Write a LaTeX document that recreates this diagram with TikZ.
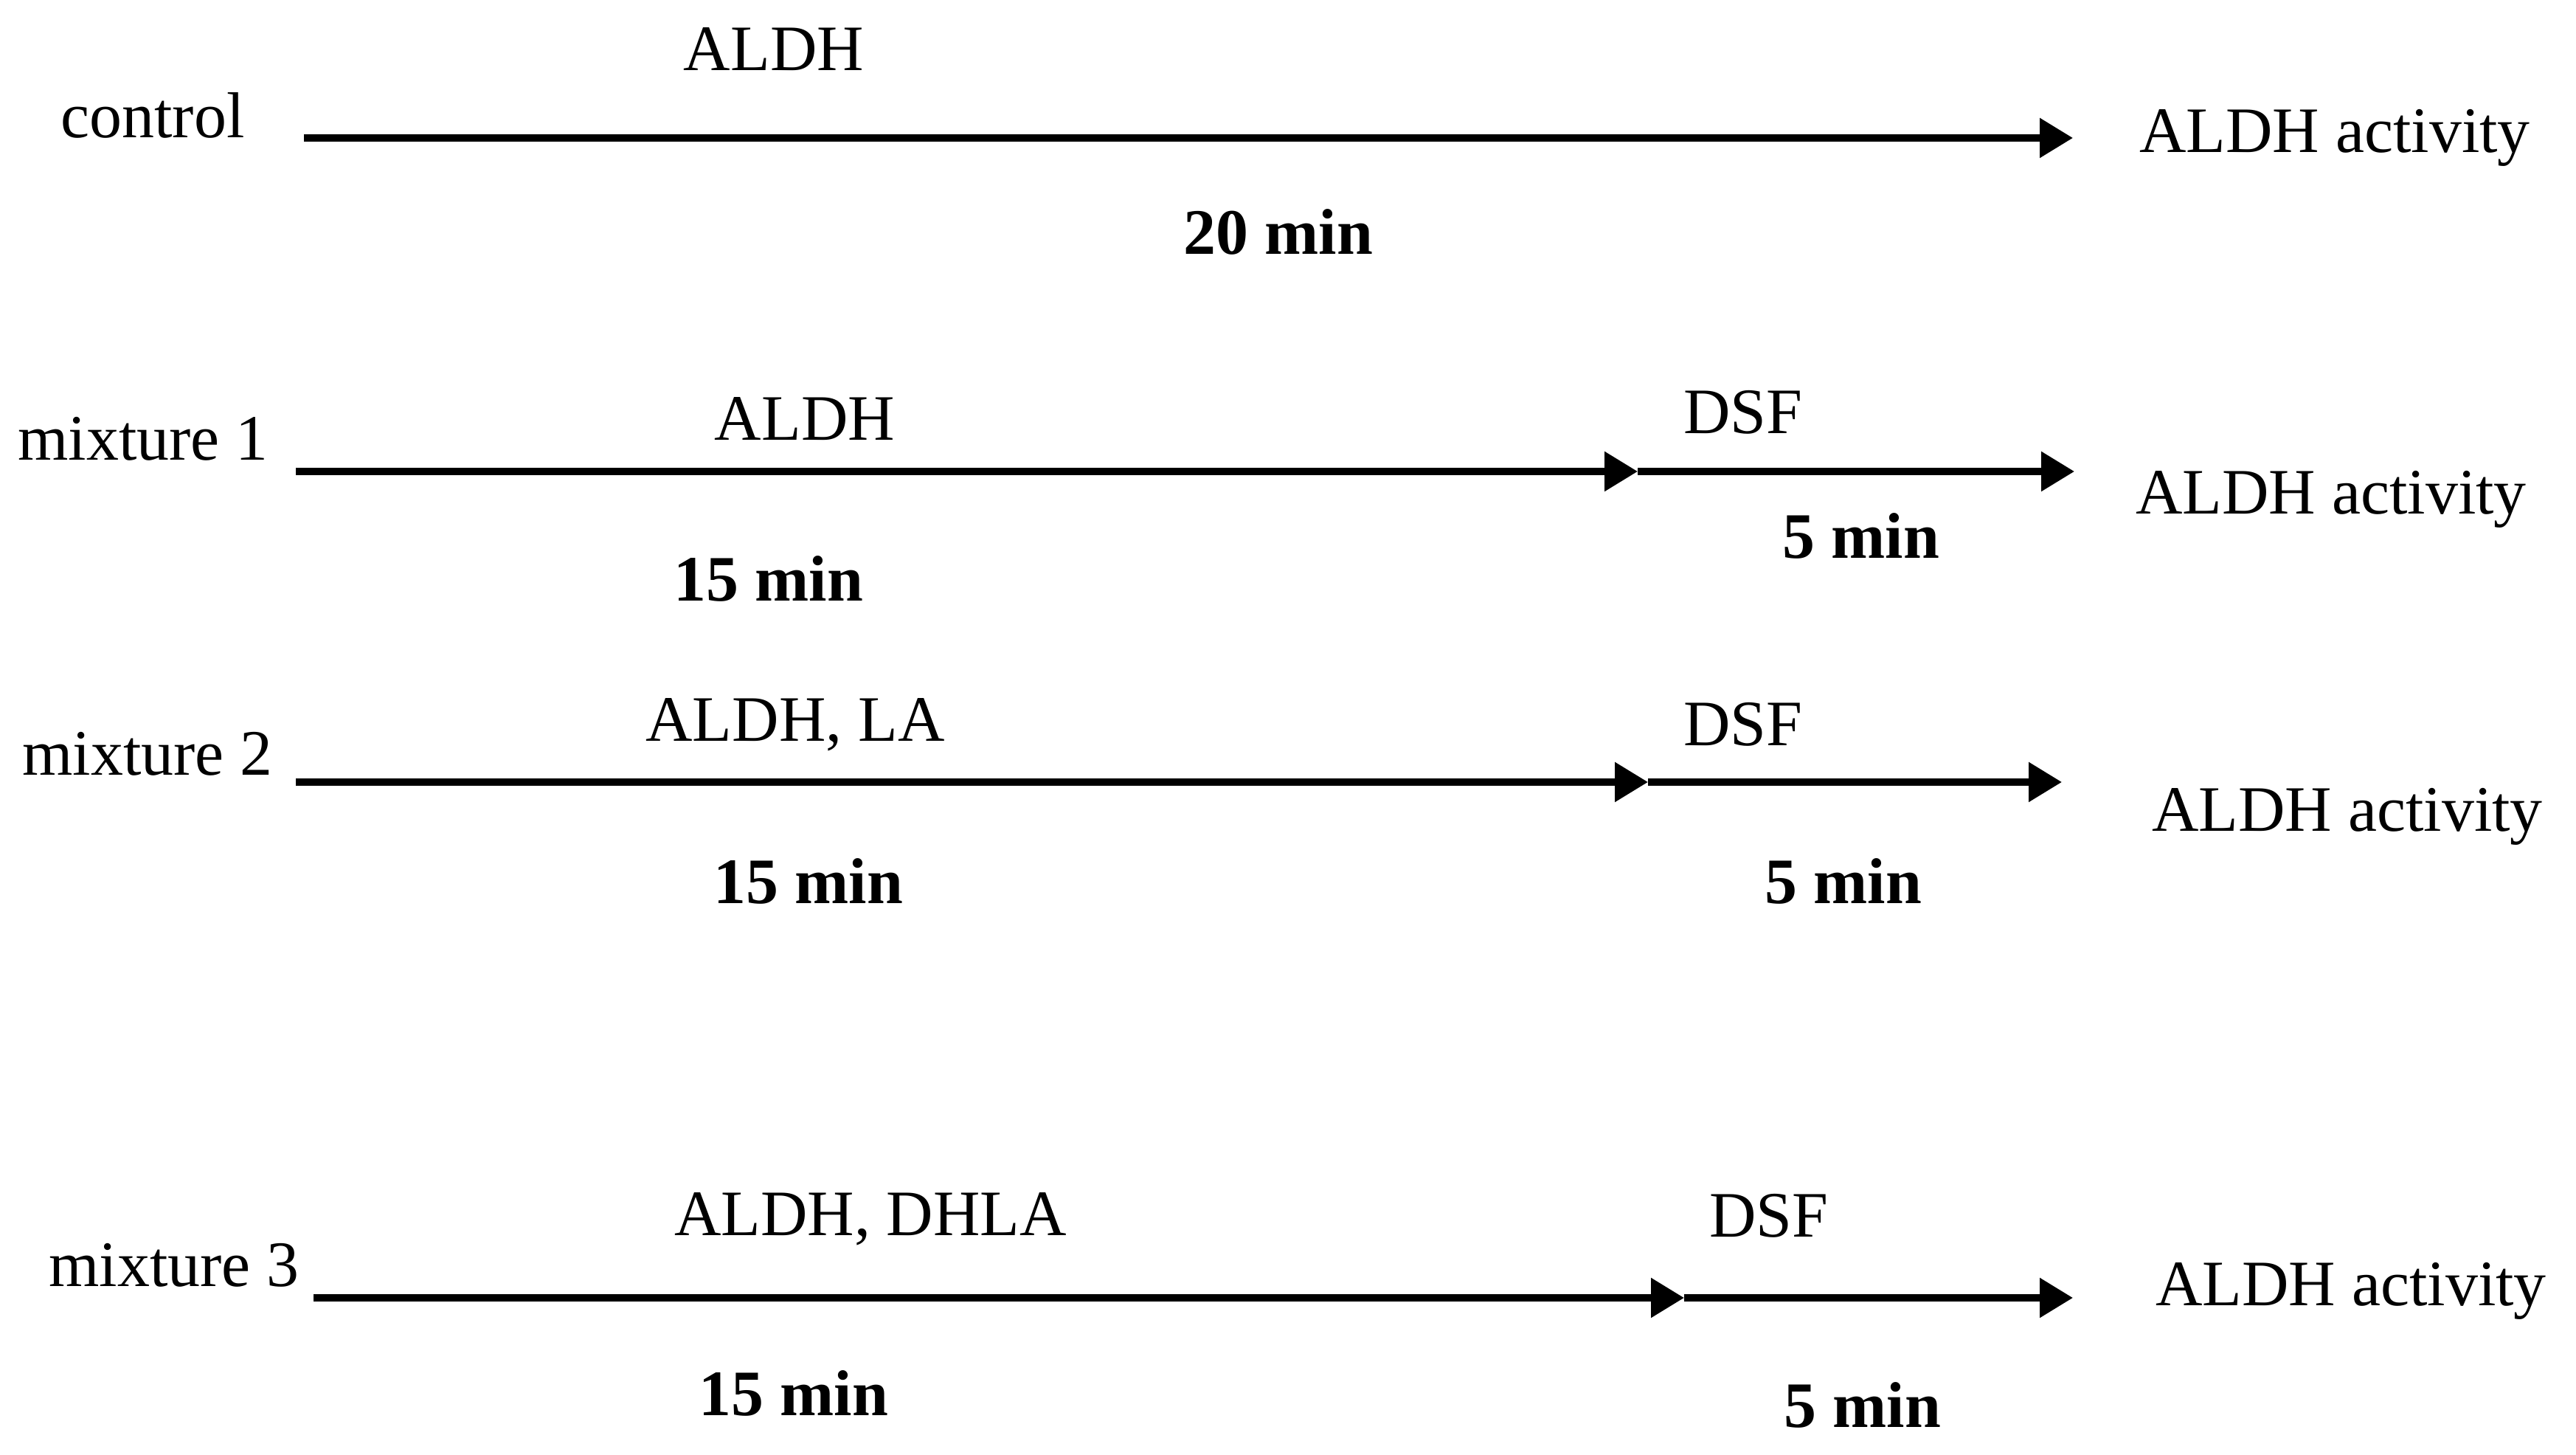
\documentclass[tikz,border=0pt]{standalone}
\usepackage{fontspec}
\setmainfont{Liberation Serif}
\usepackage{tikz}
\usetikzlibrary{arrows.meta}

\begin{document}
\begin{tikzpicture}[
    >={Triangle[length=0.45cm, width=0.52cm]},
    step line/.style={line width=2.6pt},
    every node/.style={inner sep=0pt, font=\fontsize{25}{30}\selectfont},
    time/.style={font=\fontsize{25}{30}\selectfont\bfseries}]
    \useasboundingbox (0,0) rectangle (34.92,19.72);
    %
    % control
    \coordinate (s_1) at (4.12,17.85);
    \coordinate (e_1) at (28.10,17.85);
    \node (l_1) at (2.07,18.16) {control};
    \node (a_1) at (10.49,19.05) {ALDH};
    \node[time] (t_1) at (17.33,16.58) {20 min};
    \node (r_1) at (31.65,17.85) {ALDH activity};
    \draw[->, step line] (s_1) -- (e_1);
    %
    % mixture 1
    \coordinate (s_2) at (4.01,13.33);
    \coordinate (m_2) at (22.20,13.33);
    \coordinate (e_2) at (28.12,13.33);
    \node (l_2) at (1.94,13.77) {mixture 1};
    \node (a_2) at (10.91,14.04) {ALDH};
    \node (d_2) at (23.63,14.13) {DSF};
    \node[time] (t_2) at (10.42,11.88) {15 min};
    \node[time] (u_2) at (25.23,12.46) {5 min};
    \node (r_2) at (31.60,12.95) {ALDH activity};
    \draw[->, step line] (s_2) -- (m_2);
    \draw[->, step line] (m_2) -- (e_2);
    %
    % mixture 2
    \coordinate (s_3) at (4.01,9.12);
    \coordinate (m_3) at (22.34,9.12);
    \coordinate (e_3) at (27.95,9.12);
    \node (l_3) at (2.00,9.50) {mixture 2};
    \node (a_3) at (10.78,9.90) {ALDH, LA};
    \node (d_3) at (23.63,9.90) {DSF};
    \node[time] (t_3) at (10.96,7.78) {15 min};
    \node[time] (u_3) at (24.99,7.78) {5 min};
    \node (r_3) at (31.82,8.65) {ALDH activity};
    \draw[->, step line] (s_3) -- (m_3);
    \draw[->, step line] (m_3) -- (e_3);
    %
    % mixture 3
    \coordinate (s_4) at (4.25,2.13);
    \coordinate (m_4) at (22.83,2.13);
    \coordinate (e_4) at (28.10,2.13);
    \node (l_4) at (2.36,2.57) {mixture 3};
    \node (a_4) at (11.80,3.20) {ALDH, DHLA};
    \node (d_4) at (23.98,3.24) {DSF};
    \node[time] (t_4) at (10.76,0.84) {15 min};
    \node[time] (u_4) at (25.25,0.68) {5 min};
    \node (r_4) at (31.87,2.22) {ALDH activity};
    \draw[->, step line] (s_4) -- (m_4);
    \draw[->, step line] (m_4) -- (e_4);
\end{tikzpicture}
\end{document}
